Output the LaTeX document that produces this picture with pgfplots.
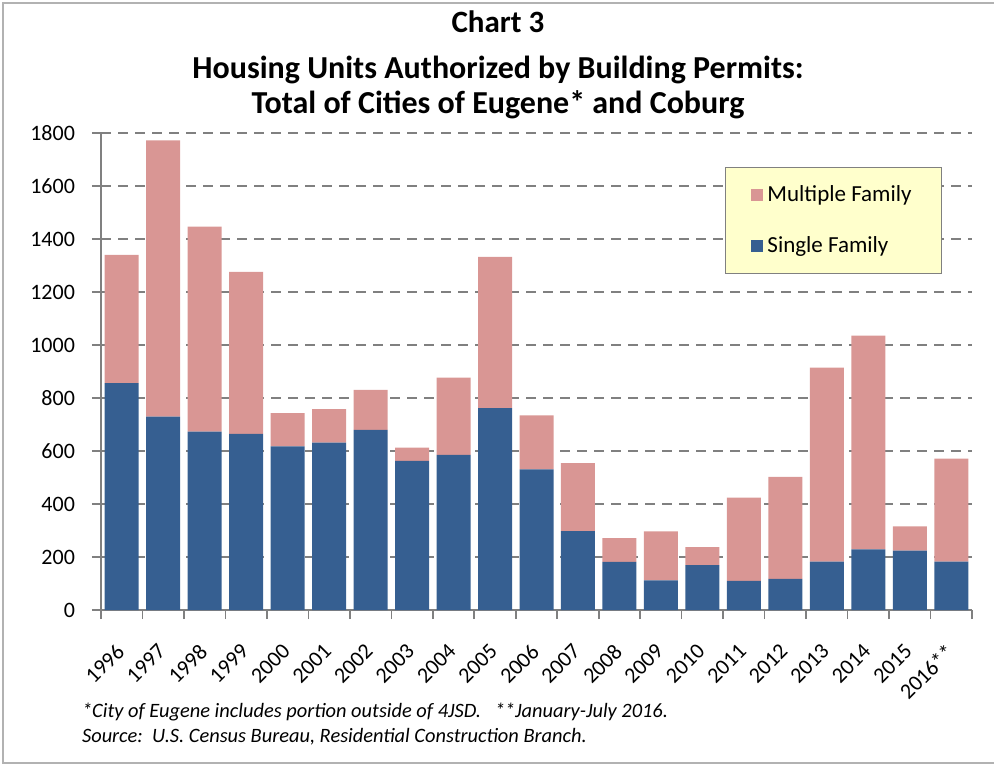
\documentclass[border=0pt]{standalone}
\usepackage{fontspec}
\setmainfont{Carlito}
\usepackage{pgfplots}
\pgfplotsset{compat=1.18}

\definecolor{sfblue}{RGB}{54,95,145}
\definecolor{mfpink}{RGB}{217,150,148}
\definecolor{gridgray}{RGB}{128,128,128}
\definecolor{legfill}{RGB}{255,255,204}

\begin{document}
\begin{tikzpicture}
\useasboundingbox (0,0) rectangle (497pt,383pt);
% outer frame of the chart area
\draw[gray!60, line width=1pt] (497pt,1.5pt) -- (1.5pt,1.5pt) -- (1.5pt,381.5pt) -- (497pt,381.5pt);

% titles
\node[font=\bfseries\fontsize{15.5}{18}\selectfont] at (249pt,372pt) {Chart 3};
\node[font=\bfseries\fontsize{16}{19}\selectfont] at (249pt,348pt) {Housing Units Authorized by Building Permits:};
\node[font=\bfseries\fontsize{16}{19}\selectfont] at (249pt,330.5pt) {Total of Cities of Eugene* and Coburg};

\begin{axis}[
    at={(50.5pt,78pt)}, anchor=south west,
    scale only axis,
    width=435.5pt, height=238.5pt,
    ybar stacked,
    bar width=0.82,
    xmin=-0.5, xmax=20.5,
    ymin=0, ymax=1800,
    ytick={0,200,...,1800},
    xtick={-0.5,0.5,...,20.5},
    xticklabels={},
    extra x ticks={0,1,...,20},
    extra x tick labels={1996,1997,1998,1999,2000,2001,2002,2003,2004,2005,2006,2007,2008,2009,2010,2011,2012,2013,2014,2015,2016**},
    extra x tick style={major tick length=0pt,
        xticklabel style={xshift=-3.3pt, yshift=-11.4pt, rotate=45, anchor=north east}},
    axis x line*=bottom, axis y line*=left,
    axis line style={-, draw=gridgray, line width=0.8pt},
    tick style={draw=gridgray, line width=0.8pt},
    tick align=outside,
    major tick length=4.5pt,
    ymajorgrids,
    major grid style={draw=gridgray, line width=1.2pt, dash pattern=on 5pt off 3.5pt},
    ticklabel style={font=\fontsize{11}{13}\selectfont},
    yticklabel style={xshift=-5pt},
    /pgf/number format/1000 sep={},
    /pgf/number format/assume math mode=true,
    reverse legend,
    legend style={at={(0.966,0.929)}, anchor=north east,
        fill=legfill, draw=gridgray, line width=0.8pt,
        font=\fontsize{11.5}{13}\selectfont,
        inner xsep=13pt, inner ysep=7pt, row sep=12pt},
    legend cell align=left,
    legend image code/.code={\fill[#1, draw=none] (0pt,-3pt) rectangle (6pt,3pt);},
]
\addplot[fill=sfblue, draw=none] coordinates {
(0,856) (1,730) (2,673) (3,665) (4,617) (5,632) (6,680)
(7,563) (8,585) (9,762) (10,531) (11,298) (12,182) (13,112)
(14,169) (15,110) (16,117) (17,183) (18,229) (19,224) (20,183)
};
\addplot[fill=mfpink, draw=none] coordinates {
(0,484) (1,1042) (2,774) (3,611) (4,126) (5,126) (6,151)
(7,50) (8,292) (9,571) (10,203) (11,256) (12,89) (13,185)
(14,68) (15,314) (16,385) (17,732) (18,806) (19,92) (20,388)
};
\legend{Single Family, Multiple Family}
\end{axis}

% footnotes
\node[anchor=west, font=\itshape\fontsize{10.2}{12}\selectfont] at (37.5pt,27pt)
  {*City of Eugene includes portion outside of 4JSD.\ \ \ **January-July 2016.};
\node[anchor=west, font=\itshape\fontsize{10.2}{12}\selectfont] at (37.5pt,14.5pt)
  {Source:\ \ U.S. Census Bureau, Residential Construction Branch.};
\end{tikzpicture}
\end{document}
